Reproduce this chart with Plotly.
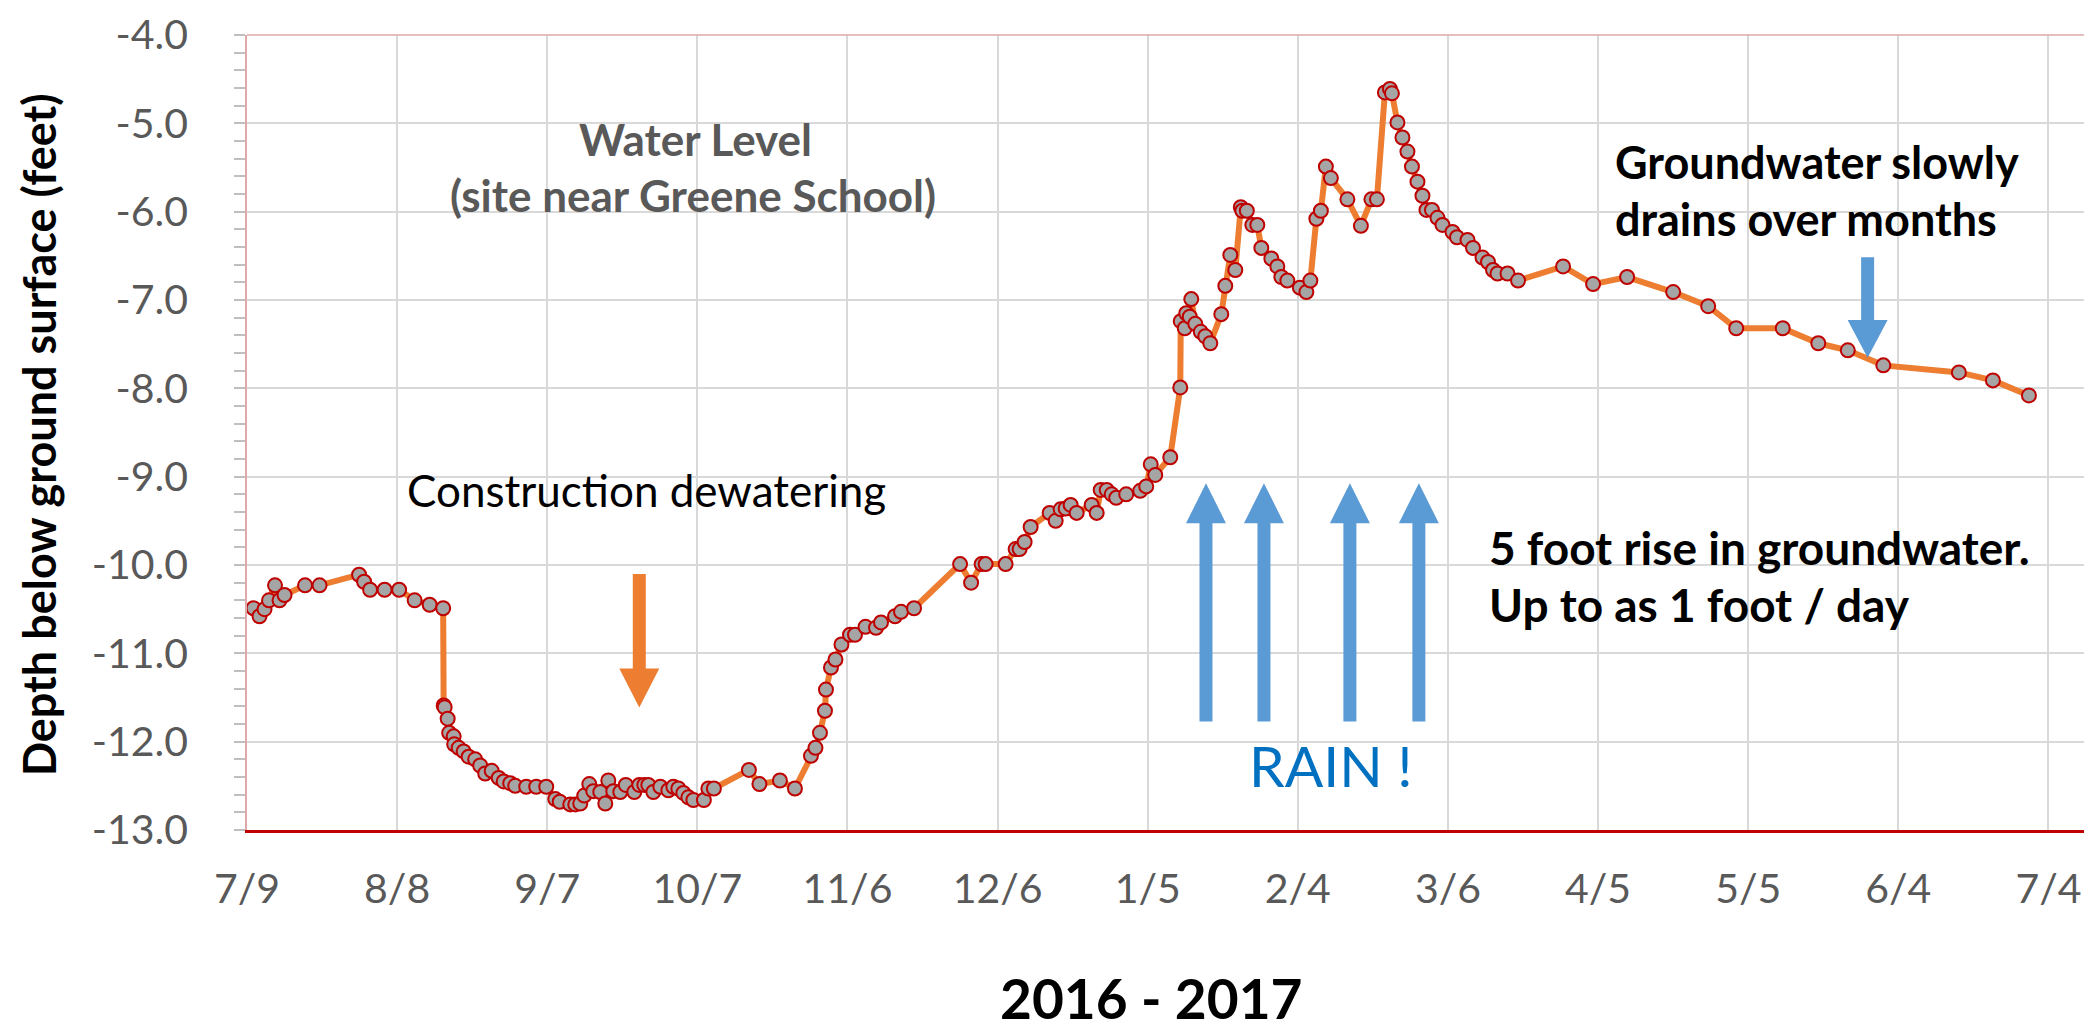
import pandas as pd
import plotly.graph_objects as go

# ---------------- data ----------------
START_DATE = "2016-07-09"
# days after 7/9/2016 of each reading
day_offset = [
    1.3, 2.5, 3.5, 4.4, 5.6, 6.5, 7.5, 11.6, 14.5, 22.4, 23.4, 24.6, 27.5, 30.4,
    33.5, 36.5, 39.2, 39.3, 39.5, 40.1, 40.4, 41.3, 41.4, 42.3, 43.3, 44.3, 45.6,
    46.6, 47.6, 48.9, 50.3, 51.3, 52.6, 53.6, 55.8, 57.8, 59.8, 61.6, 62.5, 64.6,
    65.6, 66.6, 67.4, 68.4, 69.2, 70.6, 71.6, 72.2, 73.2, 74.6, 75.7, 77.4, 78.4,
    79.4, 80.2, 81.2, 82.6, 84.2, 85.2, 86.2, 87.2, 88.2, 89.2, 91.3, 92.2, 93.3,
    100.3, 102.4, 106.5, 109.5, 112.7, 113.6, 114.5, 115.5, 115.7, 116.7, 117.6,
    118.8, 120.5, 121.5, 123.6, 125.7, 126.7, 129.5, 130.7, 133.3, 142.5, 144.7,
    146.8, 147.6, 151.6, 153.6, 154.4, 155.4, 156.6, 160.4, 161.6, 162.6, 163.6,
    164.6, 165.8, 168.8, 169.8, 170.6, 171.8, 172.8, 173.7, 175.7, 178.5, 179.7,
    180.6, 181.5, 184.5, 186.5, 186.6, 187.4, 187.7, 188.4, 188.7, 189.5, 190.6,
    191.5, 192.5, 194.7, 195.5, 196.5, 197.5, 198.6, 198.9, 199.8, 200.9, 201.9,
    202.7, 204.7, 205.9, 206.7, 207.9, 210.4, 211.7, 212.5, 213.7, 214.6, 215.6,
    216.6, 219.9, 222.6, 224.7, 225.8, 227.4, 228.4, 228.8, 229.9, 230.9, 231.9,
    232.8, 233.9, 234.9, 235.7, 236.8, 237.9, 238.9, 240.9, 241.8, 243.9, 245.0,
    246.9, 248.0, 249.0, 249.9, 251.9, 254.0, 263.0, 269.0, 275.8, 285.0, 292.0,
    297.6, 306.9, 314.0, 319.9, 327.0, 342.1, 348.9, 356.1,
]
depth_ft = [
    -10.49, -10.58, -10.50, -10.40, -10.23, -10.40, -10.34, -10.23, -10.23, -10.11,
    -10.19, -10.28, -10.28, -10.28, -10.40, -10.45, -10.49, -11.59, -11.61, -11.74,
    -11.90, -11.94, -12.03, -12.07, -12.11, -12.17, -12.20, -12.27, -12.36, -12.33,
    -12.41, -12.45, -12.47, -12.50, -12.51, -12.51, -12.51, -12.65, -12.68, -12.71,
    -12.71, -12.70, -12.61, -12.48, -12.56, -12.57, -12.70, -12.44, -12.56, -12.57,
    -12.49, -12.57, -12.49, -12.49, -12.49, -12.57, -12.51, -12.55, -12.51, -12.53,
    -12.58, -12.63, -12.66, -12.66, -12.53, -12.53, -12.32, -12.48, -12.44, -12.53,
    -12.16, -12.07, -11.90, -11.65, -11.41, -11.16, -11.07, -10.90, -10.79, -10.79,
    -10.70, -10.71, -10.65, -10.58, -10.53, -10.49, -9.99, -10.20, -9.99, -9.99,
    -9.99, -9.82, -9.82, -9.74, -9.57, -9.41, -9.50, -9.37, -9.36, -9.32, -9.41,
    -9.32, -9.41, -9.15, -9.15, -9.20, -9.24, -9.20, -9.16, -9.11, -8.86, -8.98,
    -8.78, -7.99, -7.24, -7.32, -7.15, -7.19, -6.99, -7.27, -7.36, -7.41, -7.49,
    -7.16, -6.84, -6.49, -6.66, -5.95, -5.99, -5.99, -6.15, -6.15, -6.41, -6.53,
    -6.62, -6.74, -6.78, -6.86, -6.91, -6.78, -6.08, -5.99, -5.49, -5.62, -5.86,
    -6.16, -5.86, -5.86, -4.65, -4.61, -4.66, -4.99, -5.16, -5.32, -5.49, -5.66,
    -5.82, -5.98, -5.98, -6.07, -6.15, -6.23, -6.29, -6.32, -6.41, -6.52, -6.57,
    -6.66, -6.70, -6.70, -6.78, -6.62, -6.82, -6.74, -6.91, -7.07, -7.32, -7.32,
    -7.49, -7.57, -7.74, -7.82, -7.91, -8.08,
]
y_tick_values = [-13, -12, -11, -10, -9, -8, -7, -6, -5, -4]
y_tick_labels = ["-13.0", "-12.0", "-11.0", "-10.0", "-9.0", "-8.0", "-7.0",
                 "-6.0", "-5.0", "-4.0"]
y_range = [-13.0, -4.0]
x_days_span = 369.9
tick_days = 30

# ---------------- figure ----------------
W, H = 2092, 1032
L, R, T, B = 238.5, 2090.5, 24.0, 822.0  # plot area in pixels


def px(x):
    return (x - L) / (R - L)


def py(y):
    return (B - y) / (B - T)


start = pd.Timestamp(START_DATE)
dates = start + pd.to_timedelta(day_offset, unit="D")

fig = go.Figure()
fig.add_trace(go.Scatter(
    x=dates, y=depth_ft, mode="lines+markers",
    line=dict(color="#ED7D31", width=6),
    marker=dict(symbol="circle", size=14, color="#A5A5A5",
                line=dict(color="#C00000", width=2)),
    showlegend=False, hoverinfo="x+y", cliponaxis=False,
))

FONT = "Lato, 'Open Sans', sans-serif"

fig.update_layout(
    width=W, height=H,
    margin=dict(l=L, r=W - R, t=T, b=H - B, pad=0),
    paper_bgcolor="white", plot_bgcolor="white",
    font=dict(family=FONT, color="#595959"),
    xaxis=dict(
        type="date",
        range=[start, start + pd.Timedelta(days=x_days_span)],
        tick0=start, dtick=tick_days * 86400000, tickformat="%-m/%-d",
        showgrid=True, gridcolor="#D9D9D9", gridwidth=1.5,
        ticks="", showline=True, linecolor="#C00000", linewidth=3,
        tickfont=dict(size=41, color="#595959", family=FONT),
        ticklabelstandoff=21, zeroline=False, ticklabeloverflow="allow",
    ),
    yaxis=dict(
        range=[y_range[0] - 1e-6, y_range[1] + 1e-6],
        tickmode="array", tickvals=y_tick_values, ticktext=y_tick_labels,
        showgrid=True, gridcolor="#D9D9D9", gridwidth=1.5,
        ticks="outside", ticklen=11, tickcolor="#BFBFBF", tickwidth=1.5,
        minor=dict(dtick=0.2, tick0=-13, ticks="outside", ticklen=11,
                   tickcolor="#BFBFBF", tickwidth=1.5, showgrid=False),
        showline=True, linecolor="#DDA9A9", linewidth=1.5,
        tickfont=dict(size=41, color="#595959", family=FONT),
        ticklabelstandoff=38, zeroline=False, ticklabeloverflow="allow",
    ),
)

shapes = [
    dict(type="line", xref="paper", yref="paper", x0=0, x1=1, y0=1, y1=1,
         line=dict(color="#DDA9A9", width=1.5)),
    dict(type="line", xref="paper", yref="paper", x0=1, x1=1, y0=0, y1=1,
         line=dict(color="#C0504D", width=2)),
]


def arrow(cx, y_tail, y_headbase, y_tip, color, shaft=13, head=40):
    pts = [
        (cx - shaft / 2, y_tail), (cx - shaft / 2, y_headbase),
        (cx - head / 2, y_headbase), (cx, y_tip),
        (cx + head / 2, y_headbase), (cx + shaft / 2, y_headbase),
        (cx + shaft / 2, y_tail),
    ]
    path = "M " + " L ".join(f"{px(a):.5f},{py(b):.5f}" for a, b in pts) + " Z"
    return dict(type="path", xref="paper", yref="paper", path=path,
                fillcolor=color, line=dict(width=0), layer="above")


shapes.append(arrow(631, 565, 660, 699, "#ED7D31"))
for cx in (1198, 1256, 1342, 1411):
    shapes.append(arrow(cx, 713, 514, 474, "#5B9BD5"))
shapes.append(arrow(1860, 247, 310, 348, "#5B9BD5"))
fig.update_layout(shapes=shapes)


def note(text, x, y, size, color="black", bold=False, xanchor="center",
         angle=0, yanchor="middle"):
    fig.add_annotation(
        text=f"<b>{text}</b>" if bold else text,
        xref="paper", yref="paper", x=px(x), y=py(y),
        xanchor=xanchor, yanchor=yanchor, showarrow=False, textangle=angle,
        font=dict(family=FONT, size=size, color=color), borderpad=0,
    )


note("Water Level", 687, 128, 44, "#595959", True)
note("(site near Greene School)", 685, 185, 44, "#595959", True)
note("Construction dewatering", 638, 481, 44, "black")
note("RAIN !", 1323, 757, 57, "#0070C0")
note("5 foot rise in groundwater.", 1480, 538, 46, "black", True, "left")
note("Up to as 1 foot / day", 1480, 596, 46, "black", True, "left")
note("Groundwater slowly", 1606, 151, 45, "black", True, "left")
note("drains over months", 1606, 209, 45, "black", True, "left")
note("Depth below ground surface (feet)", 31, 425, 45, "black", True, angle=-90)
note("2016 - 2017", 1143, 1025, 55, "black", True, yanchor="bottom")

fig.write_html("out.html")
